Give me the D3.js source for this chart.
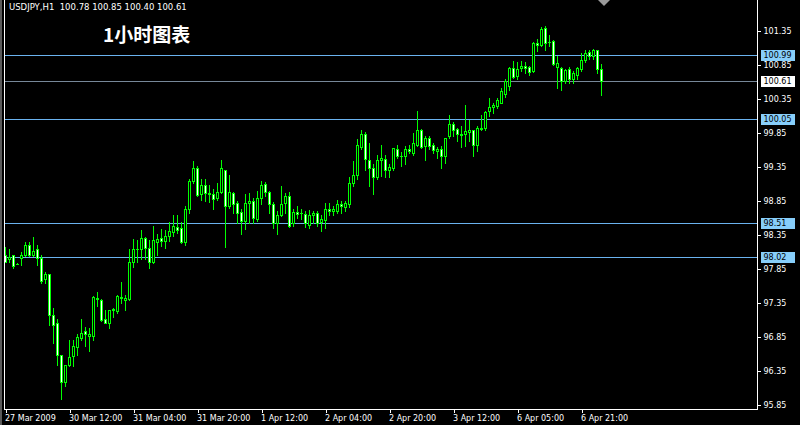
<!DOCTYPE html>
<html>
<head>
<meta charset="utf-8">
<script src="https://cdn.jsdelivr.net/npm/d3@7"></script>
<style>
  html, body { margin: 0; padding: 0; background: #000; }
  svg { display: block; }
</style>
</head>
<body>
<svg id="chart" width="800" height="425"></svg>
<script>
// USDJPY hourly candles, 27 Mar 2009 20:00 .. 7 Apr 2009 02:00
const symbol = "USDJPY,H1";
const chartTitle = "1小时图表";

const open = [
  98.05, 97.98, 98.04, 97.92, 98.00, 98.04, 98.20, 98.04, 98.13, 98.00,
  97.69, 97.77, 97.17, 97.05, 96.58, 96.17, 96.42, 96.56, 96.69, 96.83,
  96.92, 96.85, 96.86, 97.42, 97.39, 97.11, 97.05, 97.23, 97.22, 97.43,
  97.39, 97.40, 97.95, 98.14, 98.14, 98.30, 98.15, 97.95, 98.23, 98.30,
  98.25, 98.32, 98.38, 98.46, 98.45, 98.23, 98.73, 99.13, 99.32, 98.94,
  99.08, 98.96, 98.95, 98.88, 98.98, 99.30, 98.76, 98.96, 98.81, 98.68,
  98.55, 98.81, 98.84, 98.58, 98.89, 99.09, 98.98, 98.80, 98.51, 98.63,
  98.81, 98.92, 98.51, 98.68, 98.67, 98.65, 98.49, 98.63, 98.67, 98.53,
  98.56, 98.73, 98.70, 98.69, 98.79, 98.75, 98.80, 99.10, 99.22, 99.64,
  99.83, 99.45, 99.32, 99.20, 99.44, 99.46, 99.30, 99.32, 99.61, 99.51,
  99.50, 99.61, 99.55, 99.66, 99.88, 99.65, 99.77, 99.66, 99.57, 99.61,
  99.51, 99.79, 99.98, 99.90, 99.83, 99.83, 99.86, 99.88, 99.67, 99.90,
  99.91, 100.16, 100.22, 100.24, 100.29, 100.41, 100.54, 100.80, 100.68, 100.80,
  100.83, 100.82, 100.75, 101.16, 101.14, 101.39, 101.18, 101.19, 100.82, 100.80,
  100.61, 100.79, 100.63, 100.69, 100.78, 100.91, 101.04, 100.97, 101.06, 100.78
];
const high = [
  98.16, 98.14, 98.05, 97.93, 98.09, 98.23, 98.23, 98.31, 98.20, 98.05,
  97.79, 97.77, 97.26, 97.10, 96.58, 96.42, 96.80, 96.80, 96.88, 97.10,
  96.98, 96.97, 97.44, 97.50, 97.40, 97.24, 97.24, 97.27, 97.46, 97.65,
  97.46, 98.13, 98.28, 98.27, 98.42, 98.31, 98.27, 98.48, 98.36, 98.43,
  98.42, 98.53, 98.64, 98.63, 98.53, 98.76, 99.17, 99.43, 99.35, 99.16,
  99.17, 99.07, 99.01, 99.11, 99.45, 99.30, 99.22, 98.97, 98.84, 98.72,
  98.95, 98.96, 98.89, 98.99, 99.13, 99.12, 98.99, 98.82, 98.69, 99.06,
  98.96, 98.97, 98.72, 98.76, 98.73, 98.69, 98.71, 98.70, 98.69, 98.63,
  98.81, 98.81, 98.76, 98.85, 98.84, 98.84, 99.19, 99.43, 99.76, 99.89,
  99.86, 99.70, 99.39, 99.52, 99.67, 99.52, 99.39, 99.62, 99.67, 99.56,
  99.65, 99.66, 99.84, 100.17, 99.90, 99.79, 99.79, 99.70, 99.64, 99.65,
  99.77, 100.11, 100.00, 99.92, 99.94, 100.26, 100.04, 99.89, 99.94, 100.11,
  100.16, 100.36, 100.29, 100.36, 100.51, 100.64, 100.82, 100.90, 100.88, 100.90,
  100.89, 100.83, 101.18, 101.22, 101.40, 101.42, 101.29, 101.21, 100.98, 100.82,
  100.79, 100.81, 100.75, 100.82, 101.02, 101.06, 101.06, 101.08, 101.06, 100.85
];
const low = [
  97.94, 97.95, 97.85, 97.91, 97.90, 98.03, 98.03, 98.03, 97.90, 97.64,
  97.64, 97.01, 96.75, 96.43, 95.93, 96.12, 96.41, 96.41, 96.57, 96.80,
  96.70, 96.63, 96.79, 97.29, 97.07, 97.04, 96.97, 97.14, 97.19, 97.34,
  97.24, 97.39, 97.87, 97.95, 97.98, 97.98, 97.86, 97.93, 98.05, 98.18,
  98.15, 98.25, 98.32, 98.37, 98.22, 98.20, 98.67, 99.11, 98.91, 98.86,
  98.84, 98.83, 98.72, 98.86, 98.96, 98.17, 98.74, 98.67, 98.52, 98.35,
  98.43, 98.52, 98.52, 98.54, 98.79, 98.91, 98.67, 98.44, 98.35, 98.62,
  98.67, 98.46, 98.47, 98.59, 98.57, 98.46, 98.45, 98.52, 98.47, 98.40,
  98.45, 98.64, 98.64, 98.67, 98.67, 98.69, 98.75, 99.06, 99.16, 99.60,
  99.30, 99.06, 98.95, 99.16, 99.21, 99.20, 99.20, 99.30, 99.48, 99.35,
  99.38, 99.55, 99.52, 99.65, 99.62, 99.44, 99.61, 99.54, 99.48, 99.33,
  99.40, 99.77, 99.79, 99.72, 99.63, 99.65, 99.72, 99.50, 99.57, 99.89,
  99.89, 100.09, 100.14, 100.21, 100.29, 100.37, 100.48, 100.65, 100.64, 100.75,
  100.73, 100.70, 100.74, 101.05, 101.12, 101.06, 101.12, 100.84, 100.51, 100.48,
  100.58, 100.57, 100.58, 100.64, 100.75, 100.88, 100.93, 100.93, 100.73, 100.40
];
const close = [
  97.95, 98.02, 97.89, 97.92, 98.05, 98.19, 98.04, 98.11, 98.00, 97.67,
  97.76, 97.16, 97.02, 96.58, 96.17, 96.42, 96.55, 96.70, 96.84, 96.90,
  96.88, 96.89, 97.43, 97.40, 97.09, 97.05, 97.23, 97.25, 97.44, 97.41,
  97.42, 97.95, 98.14, 98.13, 98.30, 98.15, 97.94, 98.26, 98.28, 98.25,
  98.33, 98.40, 98.48, 98.42, 98.23, 98.73, 99.13, 99.33, 98.93, 99.08,
  98.96, 98.94, 98.87, 98.98, 99.32, 98.76, 98.98, 98.80, 98.67, 98.54,
  98.81, 98.84, 98.59, 98.89, 99.08, 98.98, 98.79, 98.51, 98.64, 98.80,
  98.92, 98.48, 98.68, 98.65, 98.66, 98.51, 98.63, 98.66, 98.52, 98.58,
  98.73, 98.70, 98.73, 98.80, 98.76, 98.81, 99.11, 99.23, 99.66, 99.83,
  99.46, 99.32, 99.20, 99.44, 99.48, 99.29, 99.34, 99.62, 99.51, 99.50,
  99.61, 99.57, 99.69, 99.88, 99.64, 99.77, 99.65, 99.59, 99.61, 99.50,
  99.77, 99.98, 99.88, 99.83, 99.81, 99.87, 99.89, 99.66, 99.92, 99.92,
  100.15, 100.23, 100.26, 100.32, 100.46, 100.60, 100.80, 100.67, 100.79, 100.83,
  100.80, 100.74, 101.17, 101.14, 101.37, 101.16, 101.18, 100.86, 100.87, 100.61,
  100.77, 100.64, 100.72, 100.80, 100.92, 101.02, 100.97, 101.07, 100.78, 100.61
];

// time axis: bar index of each label, and its text
const timeTickBars = [0, 16, 32, 48, 64, 80, 96, 112, 128, 144];
const timeTickLabels = [
  "27 Mar 2009", "30 Mar 12:00", "31 Mar 04:00", "31 Mar 20:00", "1 Apr 12:00",
  "2 Apr 04:00", "2 Apr 20:00", "3 Apr 12:00", "6 Apr 05:00", "6 Apr 21:00"
];
const priceTicks = [95.85, 96.35, 96.85, 97.35, 97.85, 98.35, 98.85, 99.35, 99.85, 100.35, 100.85, 101.35];
// horizontal support / resistance levels
const levelLines = [100.99, 100.05, 98.51, 98.02];

const LIME = "#00ff00";
const LEVEL = "#87cefa";
const LEVEL_LINE = "#6ab2ee";
const BIDLINE = "#778899";
const FONT = "DejaVu Sans, Verdana, sans-serif";

const svg = d3.select("#chart");
svg.append("rect").attr("width", 800).attr("height", 425).attr("fill", "#000");

const plotL = 4.5, plotR = 757.5, plotB = 409.5;
const n = close.length;
const bid = close[n - 1];

// bar i occupies pixel column x(i); bars are 4 px apart
const x = d3.scaleLinear().domain([0, n - 1]).range([5, 5 + 4 * (n - 1)]);
const y = d3.scaleLinear().domain([95.85, 101.35]).range([404.7, 31]);
const row = v => Math.floor(y(v));

// window frame strip on the far left
svg.append("rect").attr("x", 0).attr("y", 0).attr("width", 2).attr("height", 425).attr("fill", "#5a5a5a");

// level lines
const lv = svg.append("g").attr("shape-rendering", "crispEdges");
lv.selectAll("line.level").data(levelLines).join("line")
  .attr("x1", plotL).attr("x2", plotR)
  .attr("y1", d => row(d) + 0.5).attr("y2", d => row(d) + 0.5)
  .attr("stroke", LEVEL_LINE).attr("stroke-width", 1);
lv.append("line")
  .attr("x1", plotL).attr("x2", plotR)
  .attr("y1", row(bid) + 0.5).attr("y2", row(bid) + 0.5)
  .attr("stroke", BIDLINE).attr("stroke-width", 1);

// candles
const bars = d3.range(n).map(i => ({ i, o: open[i], h: high[i], l: low[i], c: close[i] }));
const cg = svg.append("g").attr("shape-rendering", "crispEdges");
cg.selectAll("rect.wick").data(bars).join("rect").attr("class", "wick")
  .attr("x", d => x(d.i)).attr("width", 1)
  .attr("y", d => row(d.h)).attr("height", d => row(d.l) - row(d.h) + 1)
  .attr("fill", LIME);
cg.selectAll("rect.body").data(bars).join("rect").attr("class", "body")
  .attr("x", d => x(d.i) - 1).attr("width", 3)
  .attr("y", d => row(Math.max(d.o, d.c)))
  .attr("height", d => row(Math.min(d.o, d.c)) - row(Math.max(d.o, d.c)) + 1)
  .attr("fill", LIME);
cg.selectAll("rect.inner")
  .data(bars.filter(d => row(Math.min(d.o, d.c)) - row(Math.max(d.o, d.c)) > 1))
  .join("rect").attr("class", "inner")
  .attr("x", d => x(d.i)).attr("width", 1)
  .attr("y", d => row(Math.max(d.o, d.c)) + 1)
  .attr("height", d => row(Math.min(d.o, d.c)) - row(Math.max(d.o, d.c)) - 1)
  .attr("fill", d => d.c >= d.o ? "#000" : "#fff");

// plot frame
const fr = svg.append("g").attr("stroke", "#fff").attr("stroke-width", 1).attr("shape-rendering", "crispEdges");
fr.append("line").attr("x1", plotL).attr("x2", plotL).attr("y1", 0).attr("y2", plotB);
fr.append("line").attr("x1", plotR).attr("x2", plotR).attr("y1", 0).attr("y2", plotB);
fr.append("line").attr("x1", plotL).attr("x2", plotR).attr("y1", plotB).attr("y2", plotB);

// time axis
const xAxis = d3.axisBottom(d3.scaleLinear().domain(x.domain()).range(x.range().map(v => v + 0.5)))
  .tickValues(timeTickBars)
  .tickSize(3)
  .tickPadding(3)
  .tickFormat((d, k) => timeTickLabels[k]);
const xg = svg.append("g").attr("transform", `translate(0,${plotB})`).call(xAxis);
xg.select(".domain").remove();
xg.selectAll(".tick line").attr("stroke", "#fff").attr("shape-rendering", "crispEdges");
xg.selectAll(".tick text")
  .attr("fill", "#fff").attr("font-family", FONT).attr("font-size", 8)
  .attr("text-anchor", "start").attr("x", -1);

// price axis
const yAxis = d3.axisRight(y).tickValues(priceTicks).tickSize(3).tickPadding(3).tickFormat(d3.format(".2f"));
const yg = svg.append("g").attr("transform", `translate(${plotR},0)`).call(yAxis);
yg.select(".domain").remove();
yg.selectAll(".tick line").attr("stroke", "#fff").attr("shape-rendering", "crispEdges");
yg.selectAll(".tick text").attr("fill", "#fff").attr("font-family", FONT).attr("font-size", 8);

// price tags for the levels and the bid
const tags = levelLines.map(v => ({ v, bg: LEVEL })).concat([{ v: bid, bg: "#fff" }]);
const tg = svg.append("g");
tg.selectAll("rect").data(tags).join("rect")
  .attr("x", plotR + 3.5).attr("width", 34)
  .attr("y", d => row(d.v) - 5).attr("height", 11)
  .attr("fill", d => d.bg).attr("shape-rendering", "crispEdges");
tg.selectAll("text").data(tags).join("text")
  .attr("x", plotR + 6).attr("y", d => row(d.v) + 0.5)
  .attr("dy", "0.35em")
  .attr("fill", "#000").attr("font-family", FONT).attr("font-size", 8)
  .text(d => d3.format(".2f")(d.v));

// header line: symbol and last bar OHLC
const f2 = d3.format(".2f");
svg.append("text").attr("x", 9).attr("y", 10)
  .attr("fill", "#fff").attr("font-family", FONT).attr("font-size", 8.5)
  .attr("xml:space", "preserve")
  .text(`${symbol}  ${f2(open[n-1])} ${f2(high[n-1])} ${f2(low[n-1])} ${f2(close[n-1])}`);

// chart caption
svg.append("text").attr("x", 103).attr("y", 42)
  .attr("fill", "#fff").attr("font-family", "Noto Sans CJK SC, sans-serif")
  .attr("font-size", 19).attr("font-weight", "bold")
  .text(chartTitle);

// chart-shift marker at the top edge
svg.append("path").attr("d", "M598,0 L610,0 L604,6 Z").attr("fill", "#9a9a9a");
</script>
</body>
</html>
